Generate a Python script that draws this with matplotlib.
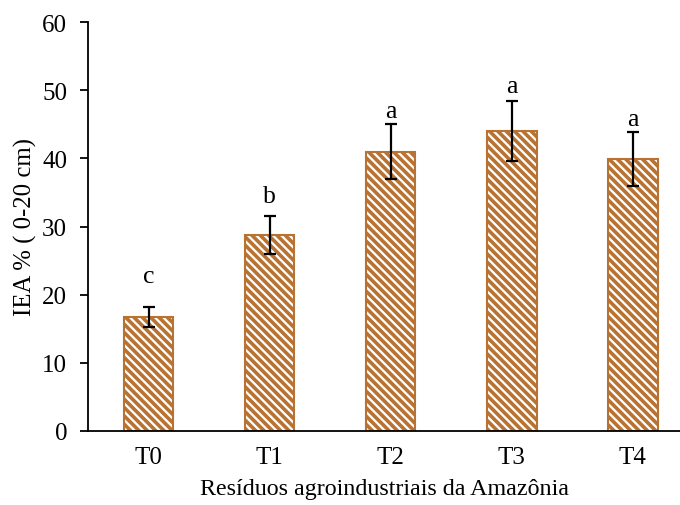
import matplotlib
matplotlib.use("Agg")
import matplotlib.pyplot as plt

categories = ["T0", "T1", "T2", "T3", "T4"]
values = [16.7, 28.7, 41.0, 44.0, 39.9]
errors = [1.5, 2.8, 4.1, 4.4, 4.0]
letters = ["c", "b", "a", "a", "a"]
letter_gap = [3.6, 2.1, 0.9, 1.3, 1.0]
yticks = [0, 10, 20, 30, 40, 50, 60]

plt.rcParams['font.family'] = ['Liberation Serif', 'DejaVu Serif']
plt.rcParams['hatch.linewidth'] = 2.6
plt.rcParams['hatch.color'] = '#B87333'

fig = plt.figure(figsize=(6.8, 5.06), dpi=100)
ax = fig.add_axes([88/680, 1-432/506, (680-88)/680, (432-23)/506])

x = list(range(len(categories)))
ax.bar(x, values, width=0.41, color='white', edgecolor='#B87333', linewidth=1.5,
       hatch='\\\\\\\\', zorder=2)
ax.errorbar(x, values, yerr=errors, fmt='none', ecolor='black', elinewidth=1.6,
            capsize=4.6, capthick=1.6, zorder=3)
for xi, v, e, l, g in zip(x, values, errors, letters, letter_gap):
    ax.text(xi, v + e + g, l, ha='center', va='baseline', fontsize=18.5)

ax.set_xlim(-0.5, 4.39)
ax.set_ylim(0, 60)
ax.set_yticks(yticks)
ax.set_xticks(x)
ax.set_xticklabels(categories)
ax.tick_params(axis='x', length=0, labelsize=18, pad=11)
ax.tick_params(axis='y', length=6, width=1.3, labelsize=18, direction='out', pad=9)
for s in ['top', 'right']:
    ax.spines[s].set_visible(False)
ax.spines['left'].set_linewidth(1.3)
ax.spines['bottom'].set_linewidth(1.3)
ax.set_ylabel("IEA % ( 0-20 cm)", fontsize=17.8, labelpad=4)
ax.set_xlabel("Resíduos agroindustriais da Amazônia", fontsize=17.3, labelpad=7)

fig.savefig("out.png", dpi=100)
